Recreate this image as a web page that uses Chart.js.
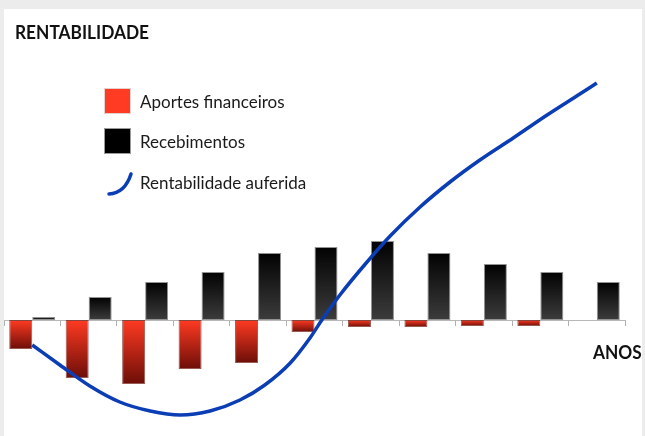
<!DOCTYPE html>
<html>
<head>
<meta charset="utf-8">
<script src="https://cdn.jsdelivr.net/npm/chart.js@4/dist/chart.umd.min.js"></script>
<style>
  html,body{margin:0;padding:0;}
  body{width:645px;height:436px;background:#ececec;position:relative;overflow:hidden;font-family:Lato,'Liberation Sans',Arial,sans-serif;}
  #panel{position:absolute;left:4px;top:9px;right:3px;bottom:0;background:#fff;}
  #chart{position:absolute;left:0;top:0;}
  .lbl{position:absolute;white-space:nowrap;color:#111;transform-origin:left top;}
  #title{left:15px;top:22px;font-size:19px;font-weight:bold;line-height:19px;transform:scaleX(0.91);}
  #anos{left:593px;top:343px;font-size:18px;font-weight:bold;line-height:18px;transform:scaleX(0.96);}
  .leg-box{position:absolute;width:27px;height:26px;}
  .leg-text{position:absolute;font-size:17px;line-height:17px;color:#1a1a1a;white-space:nowrap;}
</style>
</head>
<body>
<div id="panel"></div>
<canvas id="chart" width="645" height="436"></canvas>
<div id="title" class="lbl">RENTABILIDADE</div>
<div id="anos" class="lbl">ANOS</div>
<div id="legend"></div>
<script>
// anos 1..11 (sem rótulos no eixo)
const years = [1, 2, 3, 4, 5, 6, 7, 8, 9, 10, 11];
const aportes = [-29, -58, -64, -49, -43, -12, -7, -7, -6, -6, 0];
const recebimentos = [3, 23, 38, 48, 67, 73, 79, 67, 56, 48, 38];
// curva de rentabilidade auferida (x em anos, eixo contínuo)
const curveX = [0.5, 0.99, 1.52, 2.05, 2.59, 3.12, 3.65, 4.18, 4.62, 5.07, 5.42, 5.63, 5.95, 6.40, 6.84, 7.37, 7.90, 8.43, 9.02, 9.62, 10.2, 10.5];
const curveY = [-25, -45, -66, -82, -91, -95, -91, -80, -65, -43, -18, 0, 25, 56, 84, 113, 138, 160, 182, 205, 226, 237];

const RED_TOP = '#ff3a22', RED_BOTTOM = '#6c0e08';
const BLACK_TOP = '#020202', BLACK_BOTTOM = '#3c3c3c';
const BLUE = '#0b3db5';

function barGradient(top, bottom){
  return function(ctx){
    const chart = ctx.chart;
    if(!chart.chartArea || !ctx.parsed) return top;
    const y = chart.scales.y;
    const y0 = y.getPixelForValue(0);
    const y1 = y.getPixelForValue(ctx.parsed.y);
    if(Math.abs(y1 - y0) < 1) return top;
    const g = chart.ctx.createLinearGradient(0, Math.min(y0,y1), 0, Math.max(y0,y1));
    g.addColorStop(0, top);
    g.addColorStop(1, bottom);
    return g;
  };
}

// cada barra no meio do seu ano
const aportesData = years.map((yr,i)=>({x: yr - 0.5, y: aportes[i]}));
const recebData = years.map((yr,i)=>({x: yr - 0.5, y: recebimentos[i]}));
const curveData = curveX.map((x,i)=>({x, y: curveY[i]}));

const chart = new Chart(document.getElementById('chart'), {
  type: 'bar',
  data: {
    datasets: [
      {
        label: 'Aportes financeiros',
        data: aportesData,
        backgroundColor: barGradient(RED_TOP, RED_BOTTOM),
        borderColor: 'rgba(110,20,12,0.7)',
        borderWidth: 1,
        borderSkipped: false,
        barPercentage: 1,
        categoryPercentage: 0.815,
        order: 2
      },
      {
        label: 'Recebimentos',
        data: recebData,
        backgroundColor: barGradient(BLACK_TOP, BLACK_BOTTOM),
        borderColor: 'rgba(120,120,120,0.8)',
        borderWidth: 1,
        borderSkipped: false,
        barPercentage: 1,
        categoryPercentage: 0.815,
        order: 2
      },
      {
        type: 'line',
        label: 'Rentabilidade auferida',
        data: curveData,
        borderColor: BLUE,
        borderWidth: 3.5,
        pointRadius: 0,
        fill: false,
        cubicInterpolationMode: 'monotone',
        order: 0
      }
    ]
  },
  options: {
    responsive: false,
    animation: false,
    layout: { padding: { left: 4, right: 20, top: 60, bottom: 6 } },
    plugins: { legend: { display: false }, tooltip: { enabled: false } },
    scales: {
      x: {
        type: 'linear',
        min: 0,
        max: years.length,
        position: { y: 0 },
        offset: false,
        grid: { display: true, drawOnChartArea: false, drawTicks: true, tickLength: 5, color: '#b0b0b0', offset: false },
        border: { display: true, color: '#b8b8b8', width: 1 },
        ticks: { display: false, stepSize: 1 }
      },
      y: { min: -110, max: 260, display: false }
    }
  }
});

// legenda em HTML a partir dos datasets
const legend = document.getElementById('legend');
chart.data.datasets.forEach((ds, i) => {
  const rowTop = 80 + i * 40.5;
  if(ds.type === 'line'){
    const svgNS = 'http://www.w3.org/2000/svg';
    const svg = document.createElementNS(svgNS, 'svg');
    svg.setAttribute('width', '34'); svg.setAttribute('height', '40');
    svg.style.position = 'absolute';
    svg.style.left = '104px'; svg.style.top = rowTop + 'px';
    const p = document.createElementNS(svgNS, 'path');
    p.setAttribute('d', 'M5,33 Q21,32 27,13');
    p.setAttribute('stroke', ds.borderColor);
    p.setAttribute('stroke-width', '3.5');
    p.setAttribute('stroke-linecap', 'round');
    p.setAttribute('fill', 'none');
    svg.appendChild(p);
    legend.appendChild(svg);
  } else {
    const box = document.createElement('div');
    box.className = 'leg-box';
    box.style.left = '104px';
    box.style.top = (rowTop + 7.5) + 'px';
    box.style.background = i === 0 ? '#ff3b24' : '#000';
    box.style.border = '1px solid ' + (i === 0 ? '#e8d0cc' : '#9a9a9a');
    box.style.boxSizing = 'border-box';
    legend.appendChild(box);
  }
  const t = document.createElement('div');
  t.className = 'leg-text';
  t.style.left = '140px';
  t.style.top = (rowTop + 12.6) + 'px';
  t.textContent = ds.label;
  legend.appendChild(t);
});
</script>
</body>
</html>
